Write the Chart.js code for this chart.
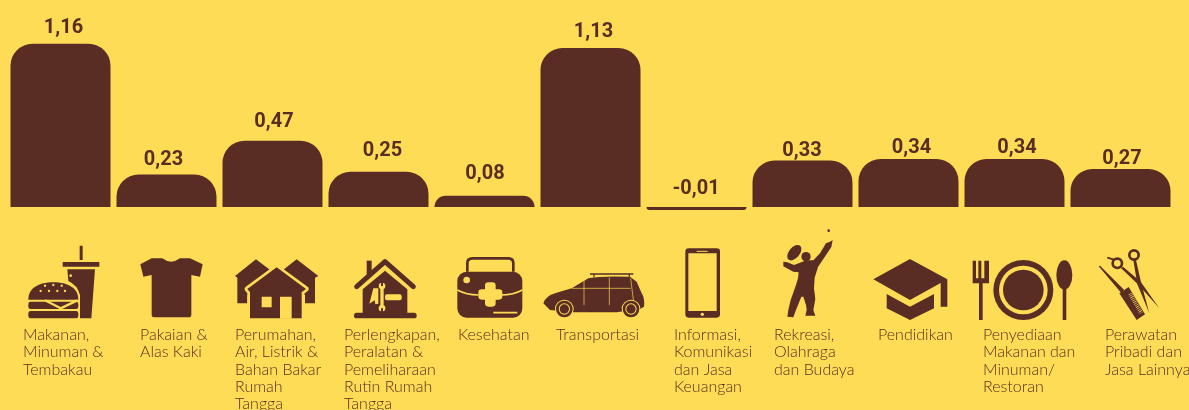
<!DOCTYPE html>
<html>
<head>
<meta charset="utf-8">
<script src="https://cdn.jsdelivr.net/npm/chart.js@4"></script>
<style>
  html, body { margin: 0; padding: 0; background: #ffdc56; overflow: hidden; }
  canvas { display: block; }
</style>
</head>
<body>
<canvas id="chart" width="1189" height="410"></canvas>
<script>
const categories = ['Makanan, Minuman & Tembakau', 'Pakaian & Alas Kaki', 'Perumahan, Air, Listrik & Bahan Bakar Rumah Tangga', 'Perlengkapan, Peralatan & Pemeliharaan Rutin Rumah Tangga', 'Kesehatan', 'Transportasi', 'Informasi, Komunikasi dan Jasa Keuangan', 'Rekreasi, Olahraga dan Budaya', 'Pendidikan', 'Penyediaan Makanan dan Minuman/ Restoran', 'Perawatan Pribadi dan Jasa Lainnya'];
const inflation = [1.16, 0.23, 0.47, 0.25, 0.08, 1.13, -0.01, 0.33, 0.34, 0.34, 0.27];
const categoryLines = [
  ['Makanan,', 'Minuman &', 'Tembakau'],
  ['Pakaian &', 'Alas Kaki'],
  ['Perumahan,', 'Air, Listrik &', 'Bahan Bakar', 'Rumah', 'Tangga'],
  ['Perlengkapan,', 'Peralatan &', 'Pemeliharaan', 'Rutin Rumah', 'Tangga'],
  ['Kesehatan'],
  ['Transportasi'],
  ['Informasi,', 'Komunikasi', 'dan Jasa', 'Keuangan'],
  ['Rekreasi,', 'Olahraga', 'dan Budaya'],
  ['Pendidikan'],
  ['Penyediaan', 'Makanan dan', 'Minuman/', 'Restoran'],
  ['Perawatan', 'Pribadi dan', 'Jasa Lainnya']
];

const BROWN = '#5a2d24';
const YELLOW = '#ffdc56';

// where the picture's labels sit relative to their bars
const labelDx = [3, -3, 1.5, 4, 0.5, 3, -0.5, -0.5, 3, 2.5, 1.5];
const labelGap = [11, 10, 14, 16, 17, 11, 13, 5, 6, 6, 5];
const captionX = [23, 140, 235, 344, 458, 556, 674, 774, 878, 983, 1105];

// bars keep the same corner radius however short they are
class RoundTopBar extends Chart.BarElement {
  draw(ctx) {
    const {x, y, base, width} = this.getProps(['x', 'y', 'base', 'width']);
    const h = Math.abs(base - y);
    const r = Math.min(22, h, width / 2);
    ctx.save();
    ctx.fillStyle = this.options.backgroundColor;
    ctx.beginPath();
    if (y <= base) {
      ctx.roundRect(x - width / 2, y, width, h, [r, r, 0, 0]);
    } else {
      ctx.roundRect(x - width / 2, base, width, h, [0, 0, r, r]);
    }
    ctx.fill();
    ctx.restore();
  }
}
RoundTopBar.id = 'roundTopBar';
RoundTopBar.defaults = Chart.BarElement.defaults;
Chart.register(RoundTopBar);
Chart.defaults.datasets.bar.dataElementType = 'roundTopBar';

// icons, in 3x coordinates of the strip below the bars
function fill(ctx, d, color) {
  ctx.fillStyle = color || BROWN;
  ctx.fill(new Path2D(d));
}
function line(ctx, d, w, color, cap) {
  ctx.strokeStyle = color || BROWN;
  ctx.lineWidth = w;
  ctx.lineCap = cap || 'butt';
  ctx.lineJoin = 'round';
  ctx.stroke(new Path2D(d));
}
function dot(ctx, x, y, r, color) {
  ctx.fillStyle = color || BROWN;
  ctx.beginPath();
  ctx.arc(x, y, r, 0, Math.PI * 2);
  ctx.fill();
}
const icons = [
  [0, ctx => {
    fill(ctx, 'M239 62h9v43h-9zM188 111h110v14h-110z');
    fill(ctx, 'M202 133L285 133L274 280L240 280L240 210Q232 180 205 168Z');
    dot(ctx, 212, 152, 4, YELLOW);
    fill(ctx, 'M85 224C85 190 115 172 160 172C205 172 235 190 235 224Z');
    [[135, 182], [160, 180], [185, 182], [122, 198], [147, 198], [172, 198], [195, 198]].forEach(p => dot(ctx, p[0], p[1], 3.5, YELLOW));
    ctx.beginPath();
    ctx.roundRect(85, 230, 150, 22, 7);
    ctx.roundRect(85, 258, 150, 22, 7);
    ctx.fillStyle = BROWN;
    ctx.fill();
    line(ctx, 'M135 226L182 250L232 226', 7, YELLOW);
  }],
  [0, ctx => {
    fill(ctx, 'M455 100L487 100Q513 120 540 100L570 100L608 118L600 155L574 150L574 270Q574 277 566 277L462 277Q455 277 455 270L455 150L430 155L421 118Z');
  }],
  [0, ctx => {
    fill(ctx, 'M705 153L768 103L830 150L742 210L742 235L712 235L712 158Z');
    fill(ctx, 'M830 150L890 103L955 153L945 158L945 235L915 235L915 210Z');
    const house = 'M742 192L830 127L918 192L905 202L905 280L750 280L750 202Z';
    line(ctx, house, 16, YELLOW);
    fill(ctx, house);
    fill(ctx, 'M785 215h30v32h-30zM840 215h35v66h-35z', YELLOW);
  }],
  [0, ctx => {
    fill(ctx, 'M1100 107h15v43h-15z');
    line(ctx, 'M1070 185L1155 110L1240 185', 15, BROWN, 'round');
    fill(ctx, 'M1155 137L1222 193L1222 268L1088 268L1088 193Z');
    ctx.fillStyle = BROWN;
    ctx.beginPath();
    ctx.roundRect(1062, 263, 188, 17, 8);
    ctx.fill();
    ctx.fillStyle = YELLOW;
    ctx.beginPath();
    ctx.roundRect(1155, 208, 50, 18, 6);
    ctx.fill();
    fill(ctx, 'M1108 236L1120 190L1135 190L1135 236L1126 238L1124 226Z', YELLOW);
    line(ctx, 'M1146 182V250', 10, YELLOW);
    dot(ctx, 1146, 183, 10, YELLOW);
    dot(ctx, 1146, 250, 10, YELLOW);
    fill(ctx, 'M1143 172h6v11h-6zM1143 250h6v11h-6z');
  }],
  [440, ctx => {
    line(ctx, 'M82 140L82 115Q82 100 97 100L205 100Q220 100 220 115L220 140', 8);
    ctx.fillStyle = BROWN;
    ctx.beginPath();
    ctx.roundRect(52, 140, 195, 138, 28);
    ctx.fill();
    line(ctx, 'M52 195Q80 210 115 210M185 210Q220 210 247 195M160 263L232 263', 5, YELLOW);
    ctx.fillStyle = YELLOW;
    ctx.beginPath();
    ctx.roundRect(135, 172, 32, 73, 10);
    ctx.roundRect(115, 193, 72, 31, 10);
    ctx.fill();
    dot(ctx, 80, 165, 10, YELLOW);
  }],
  [440, ctx => {
    fill(ctx, 'M310 235Q315 215 345 205L395 190L445 160Q480 152 570 155L590 170L605 205Q615 220 612 245L600 252L530 262L400 262L330 255Z');
    line(ctx, 'M450 147L580 147M462 147V155M568 147V155', 4);
    line(ctx, 'M432 160V240M508 158V240M395 190L572 190M572 160L582 240', 2, YELLOW);
    [373, 573].forEach(x => {
      dot(ctx, x, 252, 28, YELLOW);
      dot(ctx, x, 252, 25);
      dot(ctx, x, 252, 17, YELLOW);
      dot(ctx, x, 252, 14);
    });
  }],
  [440, ctx => {
    ctx.fillStyle = BROWN;
    ctx.beginPath();
    ctx.roundRect(736, 70, 104, 208, 10);
    ctx.fill();
    fill(ctx, 'M745 85h85v173h-85z', YELLOW);
    dot(ctx, 787, 268, 5, YELLOW);
    line(ctx, 'M770 79H803', 3, YELLOW);
  }],
  [440, ctx => {
    dot(ctx, 1166, 17, 4);
    const racket = new Path2D();
    racket.ellipse(1063, 83, 16, 27, 0.7, 0, Math.PI * 2);
    ctx.fillStyle = BROWN;
    ctx.fill(racket);
    dot(ctx, 1098, 95, 14);
    fill(ctx, 'M1170 50L1178 45L1174 66L1150 102L1134 126L1124 158L1122 190L1126 222L1120 255L1126 272L1096 272L1100 255L1098 240L1090 215L1084 215L1068 255L1060 277L1042 275L1045 255L1052 225L1068 180L1074 160L1076 142L1060 140L1030 124L1030 110L1042 112L1062 120L1084 112L1098 106L1120 106L1140 85L1158 55Z');
  }],
  [850, ctx => {
    fill(ctx, 'M180 102L292 163L180 225L70 163Z');
    fill(ctx, 'M272 172L292 162L292 245L272 245Z');
    fill(ctx, 'M110 207L180 245L252 207L252 250L180 285L110 250Z');
  }],
  [850, ctx => {
    fill(ctx, 'M368 107h10v55h-10zM385 107h9v55h-9zM403 107h14v55h-14zM368 160h49v15h-49zM387 175h11v110h-11z');
    dot(ctx, 520, 195, 90);
    dot(ctx, 520, 195, 73, YELLOW);
    dot(ctx, 520, 195, 61);
    const bowl = new Path2D();
    bowl.ellipse(643, 150, 24, 44, 0, 0, Math.PI * 2);
    ctx.fillStyle = BROWN;
    ctx.fill(bowl);
    fill(ctx, 'M638 190h11v95h-11z');
  }],
  [850, ctx => {
    fill(ctx, 'M746 124L750 122L822 194L814 204Z');
    fill(ctx, 'M808 205L836 186L885 268L860 285Z');
    // comb teeth
    ctx.setLineDash([2, 3.5]);
    line(ctx, 'M840 206L874 264', 12, YELLOW);
    ctx.setLineDash([]);
    fill(ctx, 'M812 128L820 126L872 170L928 250L866 180Z');
    fill(ctx, 'M850 106L858 105L873 172L898 265L862 178Z');
    line(ctx, 'M772 98L792 104', 5);
    [[802, 115], [852, 90]].forEach(p => {
      ctx.strokeStyle = BROWN;
      ctx.lineWidth = 8;
      ctx.beginPath();
      ctx.arc(p[0], p[1], 14, 0, Math.PI * 2);
      ctx.stroke();
    });
  }]
];

const decorations = {
  id: 'decorations',
  afterDatasetsDraw(chart) {
    const ctx = chart.ctx;
    const bars = chart.getDatasetMeta(0).data;
    ctx.save();
    // value labels over each bar
    ctx.fillStyle = BROWN;
    ctx.textAlign = 'center';
    ctx.textBaseline = 'alphabetic';
    ctx.font = 'bold 20px Roboto';
    bars.forEach((bar, i) => {
      const top = Math.min(bar.y, bar.base);
      ctx.fillText(inflation[i].toFixed(2).replace('.', ','), bar.x + labelDx[i], top - labelGap[i]);
    });
    // captions below the icons
    ctx.textAlign = 'left';
    ctx.font = '300 16px Lato';
    categoryLines.forEach((lines, i) => {
      lines.forEach((text, n) => ctx.fillText(text, captionX[i], 340 + n * 17.3));
    });
    // icons
    icons.forEach(([dx, draw]) => {
      ctx.save();
      ctx.translate(dx, 225);
      ctx.scale(1 / 3, 1 / 3);
      draw(ctx);
      ctx.restore();
    });
    ctx.restore();
  }
};

new Chart(document.getElementById('chart'), {
  type: 'bar',
  data: {
    labels: categories,
    datasets: [{
      data: inflation,
      backgroundColor: BROWN,
      barThickness: 100,
      minBarLength: 3
    }]
  },
  options: {
    responsive: false,
    animation: false,
    layout: { padding: { left: 7.5, right: 15.5, top: 3, bottom: 189 } },
    plugins: { legend: { display: false }, tooltip: { enabled: false } },
    scales: {
      x: { display: false },
      y: { display: false, min: -0.1, max: 1.45 }
    }
  },
  plugins: [decorations]
});
</script>
</body>
</html>
